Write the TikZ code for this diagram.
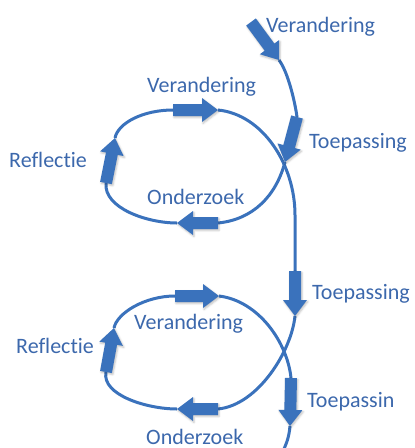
\documentclass[tikz,border=0pt]{standalone}
\usepackage{fontspec}
\setmainfont{Carlito}[Ligatures=NoCommon]
\usetikzlibrary{calc,shadows.blur}
\definecolor{flow}{RGB}{58,114,188}
\definecolor{lbl}{RGB}{60,104,172}
\newcommand\blockarr[2]{%
  \coordinate (h) at ($(#2)!16pt!(#1)$);
  \fill[arrowfill] ($(#1)!6pt!90:(#2)$) -- ($(h)!6pt!90:(#2)$) -- ($(h)!12pt!90:(#2)$)
    -- (#2) -- ($(h)!12pt!-90:(#2)$) -- ($(h)!6pt!-90:(#2)$) -- ($(#1)!6pt!-90:(#2)$) -- cycle;}
\begin{document}
\begin{tikzpicture}[x=1pt,y=-1pt,
  flowline/.style={draw=flow,line width=3pt},
  arrowfill/.style={fill=flow,blur shadow={shadow xshift=1pt,shadow yshift=-1.5pt,shadow opacity=25,shadow blur steps=4}},
  lab/.style={text=lbl,font=\fontsize{22}{24}\selectfont,anchor=base west,inner sep=0pt}]
\useasboundingbox (0,0) rectangle (415,448);
% coordinates
\coordinate (S1) at (251,22);  \coordinate (E1) at (279,60);
\coordinate (S2) at (297,117); \coordinate (E2) at (285,162);
\coordinate (S3) at (218,223); \coordinate (E3) at (177,223);
\coordinate (S4) at (106,183); \coordinate (E4) at (115,138);
\coordinate (S5) at (173,110); \coordinate (E5) at (218,110);
\coordinate (P1) at (295,215);
\coordinate (S6) at (295,271); \coordinate (E6) at (295,316);
\coordinate (S7) at (218,409); \coordinate (E7) at (177,409);
\coordinate (S8) at (106,372); \coordinate (E8) at (114,328);
\coordinate (S9) at (175,296); \coordinate (E9) at (219,296);
\coordinate (S10) at (291,378); \coordinate (E10) at (290,426);
\coordinate (End) at (284,449);
% connecting curve
\path[flowline] (E1) .. controls (288,72) and (295,102) .. (S2);
\path[flowline] (E2) .. controls (276,196) and (253,219.5) .. (S3);
\path[flowline] (E3) .. controls (147,223) and (103.5,208) .. (S4);
\path[flowline] (E4) .. controls (118,123) and (143,110) .. (S5);
\path[flowline] (E5) .. controls (263,114.5) and (295,165) .. (P1) -- (S6);
\path[flowline] (E6) .. controls (291.5,351) and (258,405) .. (S7);
\path[flowline] (E7) .. controls (147,409) and (101.4,395) .. (S8);
\path[flowline] (E8) .. controls (117,313) and (145,296) .. (S9);
\path[flowline] (E9) .. controls (259,301) and (287.5,343) .. (S10);
\path[flowline] (E10) .. controls (289,438) and (286,444) .. (End);
% block arrows
\blockarr{S1}{E1}
\blockarr{S2}{E2}
\blockarr{S3}{E3}
\blockarr{S4}{E4}
\blockarr{S5}{E5}
\blockarr{S6}{E6}
\blockarr{S7}{E7}
\blockarr{S8}{E8}
\blockarr{S9}{E9}
\blockarr{S10}{E10}
% labels
\node[lab] (v0) at (266,32) {Verandering};
\node[lab] (v1) at (147,92) {Verandering};
\node[lab] (t1) at (309,148) {Toepassing};
\node[lab] (r1) at (9,167) {Reflectie};
\node[lab] (o1) at (147,204) {Onderzoek};
\node[lab] (t2) at (312,299) {Toepassing};
\node[lab] (v2) at (134,329) {Verandering};
\node[lab] (r2) at (16,353) {Reflectie};
\node[lab] (t3) at (307,407) {Toepassin};
\node[lab] (o2) at (146,444) {Onderzoek};
\end{tikzpicture}
\end{document}
